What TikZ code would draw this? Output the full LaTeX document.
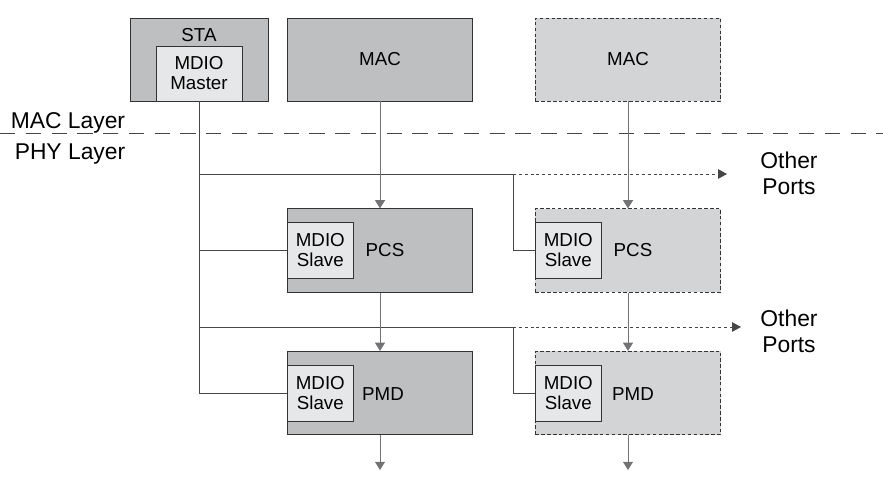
\documentclass[tikz,border=0pt]{standalone}
\usepackage{fontspec}
\setmainfont{Liberation Sans}
\usetikzlibrary{arrows.meta,positioning}

\definecolor{blockdark}{RGB}{190,191,193}
\definecolor{blocklight}{RGB}{211,212,214}
\definecolor{slavefill}{RGB}{230,231,232}
\definecolor{wirecol}{RGB}{70,70,70}
\definecolor{flowcol}{RGB}{115,115,117}

\begin{document}
\begin{tikzpicture}[
    x=0.03cm, y=-0.03cm,
    block/.style={draw=black!80, fill=blockdark, line width=0.7pt,
      minimum width=5.55cm, minimum height=2.5cm, inner sep=0pt},
    ghost/.style={block, fill=blocklight, dash pattern=on 3pt off 2pt},
    slave/.style={draw=black!80, fill=slavefill, line width=0.7pt,
      minimum width=1.97cm, minimum height=1.68cm, inner sep=0pt,
      align=center, font=\fontsize{16}{17}\selectfont, anchor=west},
    lbl/.style={font=\fontsize{16}{17}\selectfont},
    big/.style={font=\fontsize{19.5}{22}\selectfont, align=center},
    wire/.style={draw=wirecol, line width=0.7pt},
    flow/.style={draw=flowcol, line width=0.7pt,
      -{Triangle[width=8.5pt,length=7pt]}},
    portline/.style={draw=wirecol, line width=0.7pt, dash pattern=on 2.5pt off 2.5pt,
      -{Triangle[width=8pt,length=7.5pt]}}
  ]
  \useasboundingbox (0,0) rectangle (883,485);

  % layer boundary
  \coordinate (lay1) at (0,133);
  \coordinate (lay2) at (883,133);
  \draw [wirecol, line width=0.7pt, dash pattern=on 13pt off 9pt] (lay1) -- (lay2);
  \node [big] (maclayer) at (68,123) {MAC Layer};
  \node [big] (phylayer) at (70,154) {PHY Layer};

  % station
  \node [block, minimum width=4.14cm, minimum height=2.49cm] (sta) at (199,59.5) {};
  \node [lbl] (stalabel) at (199,35) {STA};
  \node [slave, anchor=south, minimum width=2.58cm, minimum height=1.65cm] (master)
    at (sta.south) {MDIO\\Master};

  % MAC blocks
  \node [block, minimum height=2.49cm] (mac) at (380,59.5) {};
  \node [lbl] (maclabel) at (mac) {MAC};
  \node [ghost, minimum height=2.49cm] (macb) at (628,59.5) {};
  \node [lbl] (macblabel) at (macb) {MAC};

  % PCS blocks
  \node [block] (pcs) at (380,250.5) {};
  \node [slave] (pcsslave) at (pcs.west) {MDIO\\Slave};
  \node [lbl] (pcslabel) at (385,250) {PCS};
  \node [ghost] (pcsb) at (628,250.5) {};
  \node [slave] (pcsbslave) at (pcsb.west) {MDIO\\Slave};
  \node [lbl] (pcsblabel) at (633,250) {PCS};

  % PMD blocks
  \node [block] (pmd) at (380,393) {};
  \node [slave] (pmdslave) at (pmd.west) {MDIO\\Slave};
  \node [lbl] (pmdlabel) at (383,394) {PMD};
  \node [ghost] (pmdb) at (628,393) {};
  \node [slave] (pmdbslave) at (pmdb.west) {MDIO\\Slave};
  \node [lbl] (pmdblabel) at (633,394) {PMD};

  % other ports
  \node [big] (ports1) at (789,173) {Other\\Ports};
  \node [big] (ports2) at (789,331) {Other\\Ports};

  % management bus
  \coordinate (tap1) at (199,174);
  \coordinate (split1) at (513,174);
  \coordinate (end1) at (727,174);
  \coordinate (tap2) at (199,327);
  \coordinate (split2) at (513,327);
  \coordinate (end2) at (741,327);
  \draw [wire] (master.south) |- (pmdslave.west);
  \draw [wire] (master.south |- pcsslave.west) -- (pcsslave.west);
  \draw [wire] (tap1) -- (split1);
  \draw [wire] (tap2) -- (split2);
  \draw [portline] (split1) -- (end1);
  \draw [portline] (split2) -- (end2);
  \draw [wire] (split1) |- (pcsbslave.west);
  \draw [wire] (split2) |- (pmdbslave.west);

  % data path
  \coordinate (out1) at (380,470);
  \coordinate (out2) at (628,470);
  \draw [flow] (mac.south) -- (pcs.north);
  \draw [flow] (pcs.south) -- (pmd.north);
  \draw [flow] (pmd.south) -- (out1);
  \draw [flow] (macb.south) -- (pcsb.north);
  \draw [flow] (pcsb.south) -- (pmdb.north);
  \draw [flow] (pmdb.south) -- (out2);
\end{tikzpicture}
\end{document}
